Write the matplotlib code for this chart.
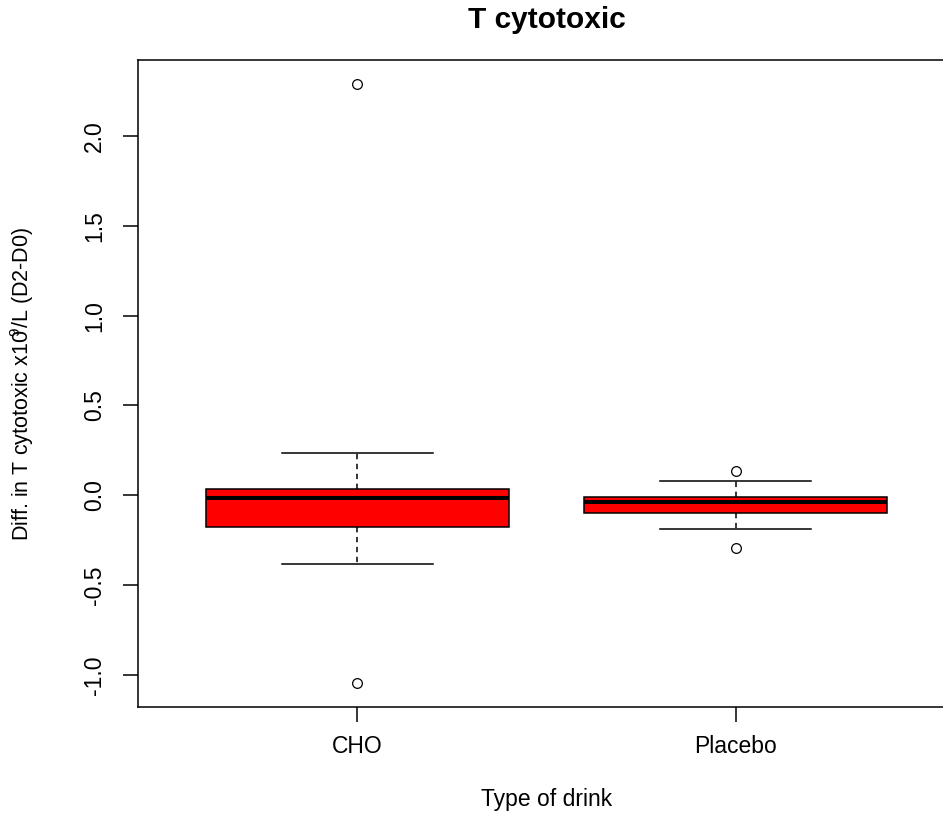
import matplotlib
matplotlib.use("Agg")
import matplotlib.pyplot as plt

plt.rcParams['font.family'] = ['Liberation Sans', 'DejaVu Sans']
plt.rcParams['mathtext.fontset'] = 'custom'
plt.rcParams['mathtext.rm'] = 'Liberation Sans'
plt.rcParams['mathtext.it'] = 'Liberation Sans'

# Box summaries for each drink group
groups = ["CHO", "Placebo"]
q1 = [-0.176, -0.100]
medians = [-0.013, -0.037]
q3 = [0.033, -0.009]
whisker_low = [-0.385, -0.190]
whisker_high = [0.235, 0.078]
outliers = [[2.289, -1.045], [0.137, -0.294]]

title = "T cytotoxic"
xlabel = "Type of drink"
ylabel = r"Diff. in T cytotoxic x10$^{\!\!\!9}$/L (D2-D0)"
yticks = [-1.0, -0.5, 0.0, 0.5, 1.0, 1.5, 2.0]

W, H = 943, 814
fig = plt.figure(figsize=(W / 100, H / 100), dpi=100)
left, right, top, bottom = 138, 955, 60, 707
ax = fig.add_axes([left / W, 1 - bottom / H, (right - left) / W, (bottom - top) / H])

stats = []
for i, name in enumerate(groups):
    stats.append(dict(label=name, med=medians[i], q1=q1[i], q3=q3[i],
                      whislo=whisker_low[i], whishi=whisker_high[i],
                      fliers=outliers[i]))

positions = list(range(1, len(groups) + 1))
ax.bxp(stats, positions=positions, widths=0.8, patch_artist=True,
       showfliers=True, manage_ticks=False,
       boxprops=dict(facecolor="#ff0000", edgecolor="black", linewidth=1.1),
       medianprops=dict(color="black", linewidth=2.9, solid_capstyle="butt"),
       whiskerprops=dict(color="black", linewidth=1.1, linestyle=(0, (3.5, 3))),
       capprops=dict(color="black", linewidth=1.1),
       capwidths=0.4,
       flierprops=dict(marker="o", markerfacecolor="none", markeredgecolor="black",
                       markersize=7, markeredgewidth=0.9))

# Axis ranges padded by 4% in the style of R's base graphics
lo = min(min(whisker_low), min(min(o) for o in outliers))
hi = max(max(whisker_high), max(max(o) for o in outliers))
span = hi - lo
ax.set_ylim(lo - 0.04 * span, hi + 0.04 * span)
xlo, xhi = 0.5, len(groups) + 0.5
ax.set_xlim(xlo - 0.04 * (xhi - xlo), xhi + 0.04 * (xhi - xlo))

ax.set_yticks(yticks)
ax.set_yticklabels([f"{v:.1f}" for v in yticks], rotation=90, va="center")
ax.set_xticks(positions)
ax.set_xticklabels(groups)
ax.tick_params(axis="both", length=10.5, width=1.1, labelsize=16.5, color="black")
ax.tick_params(axis="y", pad=12.5)
ax.tick_params(axis="x", pad=10)
for s in ax.spines.values():
    s.set_linewidth(1.1)
    s.set_color("black")

fig.text((left + right) / 2 / W, 1 - 28 / H, title, ha="center", va="baseline",
         fontsize=21.5, fontweight="bold")
fig.text((left + right) / 2 / W, 1 - 806 / H, xlabel, ha="center", va="baseline",
         fontsize=16.5)
fig.text(22 / W, 1 - (top + bottom) / 2 / H, ylabel, ha="center", va="center",
         rotation=90, fontsize=15.5)

fig.savefig("out.png", dpi=100, facecolor="white")
